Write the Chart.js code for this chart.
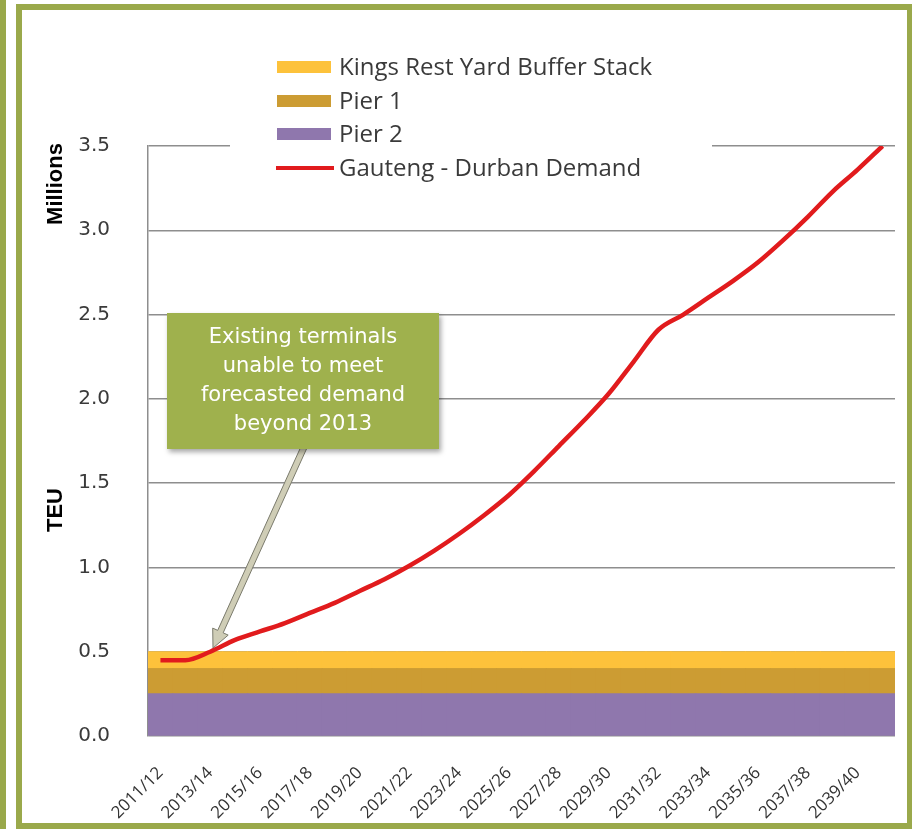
<!DOCTYPE html>
<html><head><meta charset="utf-8">
<script src="https://cdn.jsdelivr.net/npm/chart.js@4.4.1/dist/chart.umd.min.js"></script>
<style>
html,body{margin:0;padding:0;background:#fff;}
#wrap{position:relative;width:912px;height:829px;overflow:hidden;background:#fff;}
#c{position:absolute;left:0;top:0;}
.strip{position:absolute;left:0;top:0;width:6px;height:829px;background:#99a84a;pointer-events:none;}
.frame{position:absolute;left:16px;top:4px;width:896px;height:825px;border:6px solid #9aa94b;border-right-width:5px;box-sizing:border-box;pointer-events:none;}
</style></head>
<body>
<div id="wrap"><canvas id="c" width="912" height="829"></canvas><div class="strip"></div><div class="frame"></div></div>
<script>
const categories = ["2011/12","2012/13","2013/14","2014/15","2015/16","2016/17","2017/18","2018/19","2019/20","2020/21",
  "2021/22","2022/23","2023/24","2024/25","2025/26","2026/27","2027/28","2028/29","2029/30","2030/31",
  "2031/32","2032/33","2033/34","2034/35","2035/36","2036/37","2037/38","2038/39","2039/40","2040/41"];
const pier2 = [0.25,0.25,0.25,0.25,0.25,0.25,0.25,0.25,0.25,0.25,0.25,0.25,0.25,0.25,0.25,
  0.25,0.25,0.25,0.25,0.25,0.25,0.25,0.25,0.25,0.25,0.25,0.25,0.25,0.25,0.25];
const pier1 = [0.15,0.15,0.15,0.15,0.15,0.15,0.15,0.15,0.15,0.15,0.15,0.15,0.15,0.15,0.15,
  0.15,0.15,0.15,0.15,0.15,0.15,0.15,0.15,0.15,0.15,0.15,0.15,0.15,0.15,0.15];
const kingsRest = [0.10,0.10,0.10,0.10,0.10,0.10,0.10,0.10,0.10,0.10,0.10,0.10,0.10,0.10,0.10,
  0.10,0.10,0.10,0.10,0.10,0.10,0.10,0.10,0.10,0.10,0.10,0.10,0.10,0.10,0.10];
const demand = [0.45,0.45,0.50,0.57,0.62,0.67,0.73,0.79,0.86,0.93,
  1.01,1.10,1.20,1.31,1.43,1.57,1.72,1.87,2.03,2.22,
  2.41,2.50,2.60,2.70,2.81,2.94,3.08,3.23,3.36,3.50];
const yTicks = [0.0,0.5,1.0,1.5,2.0,2.5,3.0,3.5];
const legendLabels = ["Kings Rest Yard Buffer Stack","Pier 1","Pier 2","Gauteng - Durban Demand"];
const annotationLines = ["Existing terminals","unable to meet","forecasted demand","beyond 2013"];
const axisUnit = "Millions";
const axisTitle = "TEU";

const C_KINGS = '#fdc23b', C_P1 = '#cc9c33', C_P2 = '#8f77ad', C_RED = '#e11b1d';

const overlay = {
  id: 'overlay',
  beforeDatasetsDraw(chart) {
    const ctx = chart.ctx;
    ctx.save();
    ctx.fillStyle = '#ffffff';
    ctx.fillRect(230, 40, 482, 145);
    ctx.restore();
  },
  afterDraw(chart) {
    const ctx = chart.ctx;
    ctx.save();
    // legend
    const rows = [67, 101, 134, 168];
    const fills = [C_KINGS, C_P1, C_P2, null];
    ctx.font = '24px "Open Sans"';
    ctx.textBaseline = 'middle';
    ctx.textAlign = 'left';
    legendLabels.forEach((lab, i) => {
      const y = rows[i];
      if (fills[i]) {
        ctx.fillStyle = fills[i];
        ctx.fillRect(277, y - 6, 54, 12);
      } else {
        ctx.strokeStyle = C_RED;
        ctx.lineWidth = 4;
        ctx.beginPath(); ctx.moveTo(276, y); ctx.lineTo(334, y); ctx.stroke();
      }
      ctx.fillStyle = '#3a3a3a';
      ctx.fillText(lab, 339, y + 1);
    });
    // axis titles
    ctx.fillStyle = '#000';
    ctx.font = 'bold 22px "Liberation Sans"';
    ctx.textAlign = 'center';
    ctx.textBaseline = 'middle';
    ctx.save(); ctx.translate(56, 184); ctx.rotate(-Math.PI / 2); ctx.fillText(axisUnit, 0, 0); ctx.restore();
    ctx.save(); ctx.translate(56, 510); ctx.rotate(-Math.PI / 2); ctx.fillText(axisTitle, 0, 0); ctx.restore();
    // arrow
    const S = {x: 305, y: 445}, T = {x: 213, y: 648};
    const dx = T.x - S.x, dy = T.y - S.y, L = Math.hypot(dx, dy);
    const ux = dx / L, uy = dy / L, nx = -uy, ny = ux;
    const hw = 3, hl = 18, hh = 8.5;
    const Hx = T.x - ux * hl, Hy = T.y - uy * hl;
    ctx.beginPath();
    ctx.moveTo(S.x + nx * hw, S.y + ny * hw);
    ctx.lineTo(Hx + nx * hw, Hy + ny * hw);
    ctx.lineTo(Hx + nx * hh, Hy + ny * hh);
    ctx.lineTo(T.x, T.y);
    ctx.lineTo(Hx - nx * hh, Hy - ny * hh);
    ctx.lineTo(Hx - nx * hw, Hy - ny * hw);
    ctx.lineTo(S.x - nx * hw, S.y - ny * hw);
    ctx.closePath();
    ctx.fillStyle = '#cfcdb6';
    ctx.fill();
    ctx.strokeStyle = '#7a7a6c';
    ctx.lineWidth = 1;
    ctx.stroke();
    // annotation box
    ctx.save();
    ctx.shadowColor = 'rgba(0,0,0,0.35)';
    ctx.shadowBlur = 5;
    ctx.shadowOffsetX = 2;
    ctx.shadowOffsetY = 3;
    ctx.fillStyle = '#9fb14d';
    ctx.fillRect(167, 313, 272, 136);
    ctx.restore();
    ctx.fillStyle = '#ffffff';
    ctx.font = '21px "DejaVu Sans"';
    ctx.textAlign = 'center';
    ctx.textBaseline = 'middle';
    annotationLines.forEach((t, i) => ctx.fillText(t, 303, 338 + i * 29));
    ctx.restore();
  }
};

new Chart(document.getElementById('c'), {
  type: 'bar',
  data: {
    labels: categories,
    datasets: [
      {type: 'line', label: legendLabels[3], data: demand, borderColor: C_RED, backgroundColor: C_RED,
        borderWidth: 4.5, pointRadius: 0, cubicInterpolationMode: 'monotone', stack: 'demand', order: 0, fill: false},
      {label: legendLabels[2], data: pier2, backgroundColor: C_P2, stack: 'cap', order: 1,
        barPercentage: 1, categoryPercentage: 1, borderWidth: 0, inflateAmount: 0.5},
      {label: legendLabels[1], data: pier1, backgroundColor: C_P1, stack: 'cap', order: 1,
        barPercentage: 1, categoryPercentage: 1, borderWidth: 0, inflateAmount: 0.5},
      {label: legendLabels[0], data: kingsRest, backgroundColor: C_KINGS, stack: 'cap', order: 1,
        barPercentage: 1, categoryPercentage: 1, borderWidth: 0, inflateAmount: 0.5}
    ]
  },
  options: {
    responsive: false,
    devicePixelRatio: 1,
    animation: false,
    layout: {padding: {top: 146, right: 17, left: 0, bottom: 0}},
    plugins: {legend: {display: false}, tooltip: {enabled: false}, title: {display: false}},
    scales: {
      x: {
        grid: {display: false},
        border: {display: false},
        ticks: {
          autoSkip: false, maxRotation: 45, minRotation: 45, padding: 19,
          color: '#333333', font: {family: '"Open Sans"', size: 17},
          callback: (v, i) => (i % 2 === 0 ? categories[i] : '')
        },
        afterFit: (s) => { s.height = 93; s.paddingLeft = 0; s.paddingRight = 0; }
      },
      y: {
        stacked: true,
        min: 0, max: 3.5,
        afterBuildTicks: (s) => { s.ticks = yTicks.map(v => ({value: v})); },
        grid: {color: '#8e8e8e', lineWidth: 1.5, drawTicks: false},
        border: {display: true, color: '#8e8e8e', width: 1.5},
        ticks: {
          padding: 38, color: '#3a3a3a', font: {family: '"DejaVu Sans"', size: 20},
          callback: (v) => Number(v).toFixed(1)
        },
        afterFit: (s) => { s.width = 148; s.paddingTop = 0; s.paddingBottom = 0; }
      }
    }
  },
  plugins: [overlay]
});
</script>
</body></html>
